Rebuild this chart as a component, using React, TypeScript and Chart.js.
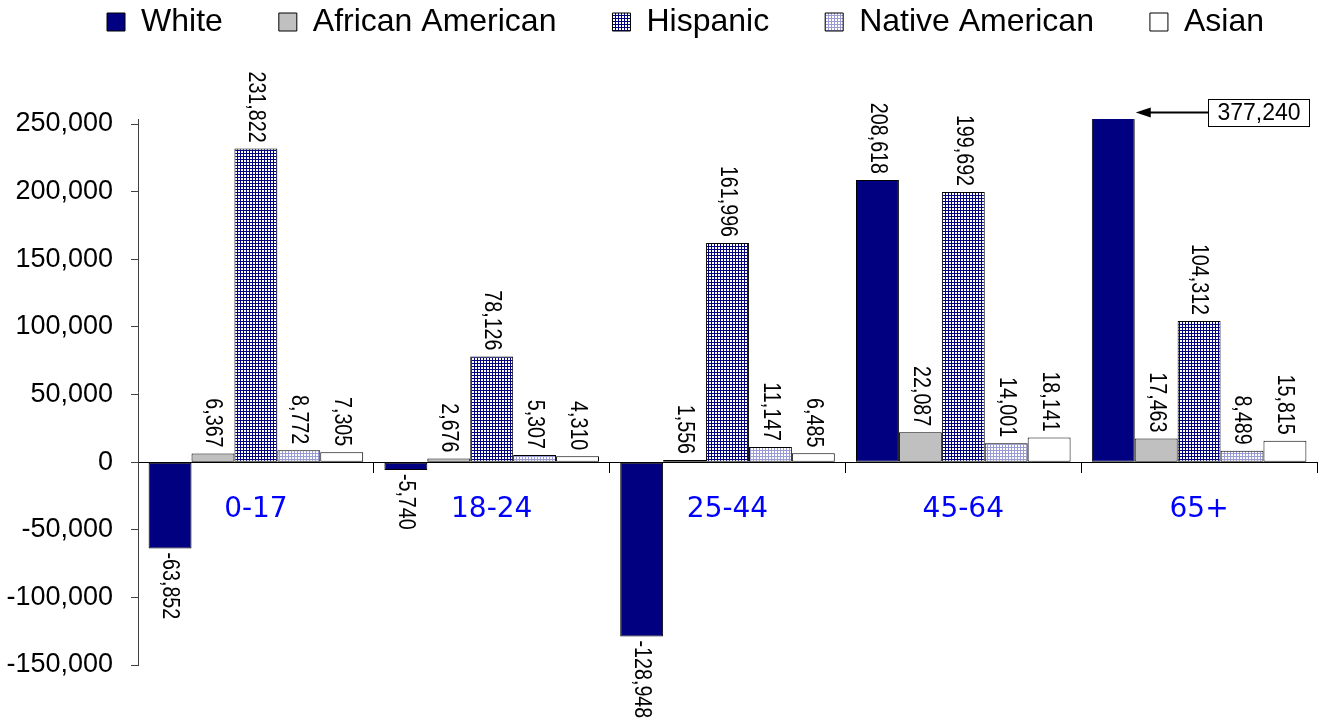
import React, { useEffect, useRef } from 'react';
import { Chart, registerables } from 'chart.js';

Chart.register(...registerables);

// ---- Data ----
const categories = ['0-17', '18-24', '25-44', '45-64', '65+'];
const seriesNames = ['White', 'African American', 'Hispanic', 'Native American', 'Asian'];
const white = [-63852, -5740, -128948, 208618, 377240];
const africanAmerican = [6367, 2676, 1556, 22087, 17463];
const hispanic = [231822, 78126, 161996, 199692, 104312];
const nativeAmerican = [8772, 5307, 11147, 14001, 8489];
const asian = [7305, 4310, 6485, 18141, 15815];
const yTickValues = [-150000, -100000, -50000, 0, 50000, 100000, 150000, 200000, 250000];
const Y_MIN = -150000;
const Y_MAX = 253700;

const ARIAL = '"Liberation Sans", Arial, Helvetica, sans-serif';
const VERDANA = '"DejaVu Sans", Verdana, sans-serif';

function gridPattern(line: string, bg: string, period: number) {
  const c = document.createElement('canvas');
  c.width = period;
  c.height = period;
  const g = c.getContext('2d') as CanvasRenderingContext2D;
  g.fillStyle = bg;
  g.fillRect(0, 0, period, period);
  g.fillStyle = line;
  g.fillRect(0, 0, period, 1);
  g.fillRect(0, 0, 1, period);
  return g.createPattern(c, 'repeat') as CanvasPattern;
}

const fmt = (v: number) => Number(v).toLocaleString('en-US');

const legendLayout = {
  id: 'legendLayout',
  afterInit(chart: any) {
    const lg = chart.legend;
    if (lg && !lg.__patched) {
      const orig = lg.fit;
      lg.fit = function () {
        orig.call(this);
        this.height = 119;
      };
      lg.__patched = true;
    }
  },
  afterLayout(chart: any) {
    const lg = chart.legend;
    if (lg) {
      lg.top = 6 - 56;
      lg.left += 27;
      lg.right += 27;
    }
  },
};

const barLabels = {
  id: 'barLabels',
  afterDatasetsDraw(chart: any) {
    const ctx: CanvasRenderingContext2D = chart.ctx;
    const area = chart.chartArea;
    chart.data.datasets.forEach((ds: any, di: number) => {
      const meta = chart.getDatasetMeta(di);
      meta.data.forEach((bar: any, i: number) => {
        const v = ds.data[i] as number;
        const text = fmt(v);
        ctx.save();
        ctx.fillStyle = '#000';
        if (v >= 0 && bar.y < area.top) {
          // callout for the bar that runs past the top of the axis
          const tipX = bar.x + bar.width / 2 + 1;
          const yA = area.top - 6.5;
          ctx.font = `23px ${ARIAL}`;
          const tw = ctx.measureText(text).width;
          const boxL = Math.round(tipX + 72) + 0.5;
          const boxW = Math.round(tw + 18);
          const boxH = 27;
          const boxT = Math.round(yA - boxH / 2) + 0.5;
          ctx.strokeStyle = '#000';
          ctx.lineWidth = 2;
          ctx.beginPath();
          ctx.moveTo(boxL, yA);
          ctx.lineTo(tipX + 12, yA);
          ctx.stroke();
          ctx.beginPath();
          ctx.moveTo(tipX, yA);
          ctx.lineTo(tipX + 15, yA - 5);
          ctx.lineTo(tipX + 15, yA + 5);
          ctx.closePath();
          ctx.fill();
          ctx.fillStyle = '#fff';
          ctx.fillRect(boxL, boxT, boxW, boxH);
          ctx.lineWidth = 1;
          ctx.strokeRect(boxL, boxT, boxW, boxH);
          ctx.fillStyle = '#000';
          ctx.textAlign = 'center';
          ctx.textBaseline = 'middle';
          ctx.fillText(text, boxL + boxW / 2, boxT + boxH / 2 + 1);
          ctx.restore();
          return;
        }
        ctx.font = `24px ${ARIAL}`;
        ctx.textBaseline = 'middle';
        if (v >= 0) {
          ctx.translate(bar.x, bar.y - 6);
          ctx.rotate(Math.PI / 2);
          ctx.scale(0.82, 1);
          ctx.textAlign = 'right';
        } else {
          ctx.translate(bar.x, bar.y + 4);
          ctx.rotate(Math.PI / 2);
          ctx.scale(0.82, 1);
          ctx.textAlign = 'left';
        }
        ctx.fillText(text, 0, 0);
        ctx.restore();
      });
    });
  },
};

export default function App() {
  const canvasRef = useRef<HTMLCanvasElement | null>(null);

  useEffect(() => {
    const canvas = canvasRef.current;
    if (!canvas) return;
    const hispPattern = gridPattern('#000080', '#ffffff', 3);
    const nativePattern = gridPattern('#9a9ad4', '#ffffff', 3);
    const seriesValues = [white, africanAmerican, hispanic, nativeAmerican, asian];
    const fills: any[] = ['#000080', '#c0c0c0', hispPattern, nativePattern, '#ffffff'];

    const chart = new Chart(canvas, {
      type: 'bar',
      data: {
        labels: categories,
        datasets: seriesNames.map((name, k) => ({
          label: name,
          data: seriesValues[k],
          backgroundColor: fills[k],
          borderColor: '#000',
          borderWidth: 1,
          borderSkipped: false,
          categoryPercentage: 0.91,
          barPercentage: 1.0,
        })),
      },
      options: {
        responsive: false,
        animation: false,
        devicePixelRatio: 1,
        layout: { padding: { left: 0, right: 6, top: 0, bottom: 60 } },
        plugins: {
          tooltip: { enabled: false },
          legend: {
            display: true,
            position: 'top',
            labels: {
              boxWidth: 18,
              boxHeight: 18,
              padding: 56,
              color: '#000',
              font: { family: ARIAL, size: 32 },
            },
          },
        },
        scales: {
          x: {
            type: 'category',
            position: { y: 0 } as any,
            grid: {
              offset: true,
              drawOnChartArea: false,
              drawTicks: true,
              tickLength: 10,
              color: '#000',
            },
            border: { display: true, color: '#000', width: 1 },
            ticks: {
              color: '#0000ff',
              font: { family: VERDANA, size: 28 },
              padding: 21,
              maxRotation: 0,
              autoSkip: false,
            },
          },
          y: {
            type: 'linear',
            min: Y_MIN,
            max: Y_MAX,
            afterBuildTicks: (s: any) => {
              s.ticks = yTickValues.map((v) => ({ value: v }));
            },
            afterFit: (s: any) => {
              s.width = 138;
            },
            grid: {
              drawOnChartArea: false,
              drawTicks: true,
              tickLength: 7,
              color: '#404040',
            },
            border: { display: true, color: '#404040', width: 1 },
            ticks: {
              color: '#000',
              font: { family: ARIAL, size: 27 },
              padding: 18,
              callback: (v: any) => fmt(Number(v)),
            },
          },
        },
      },
      plugins: [legendLayout, barLabels],
    });

    return () => chart.destroy();
  }, []);

  return (
    <div style={{ position: 'absolute', left: 0, top: 0, width: 1323, height: 725 }}>
      <canvas ref={canvasRef} width={1323} height={725} style={{ display: 'block' }} />
    </div>
  );
}
